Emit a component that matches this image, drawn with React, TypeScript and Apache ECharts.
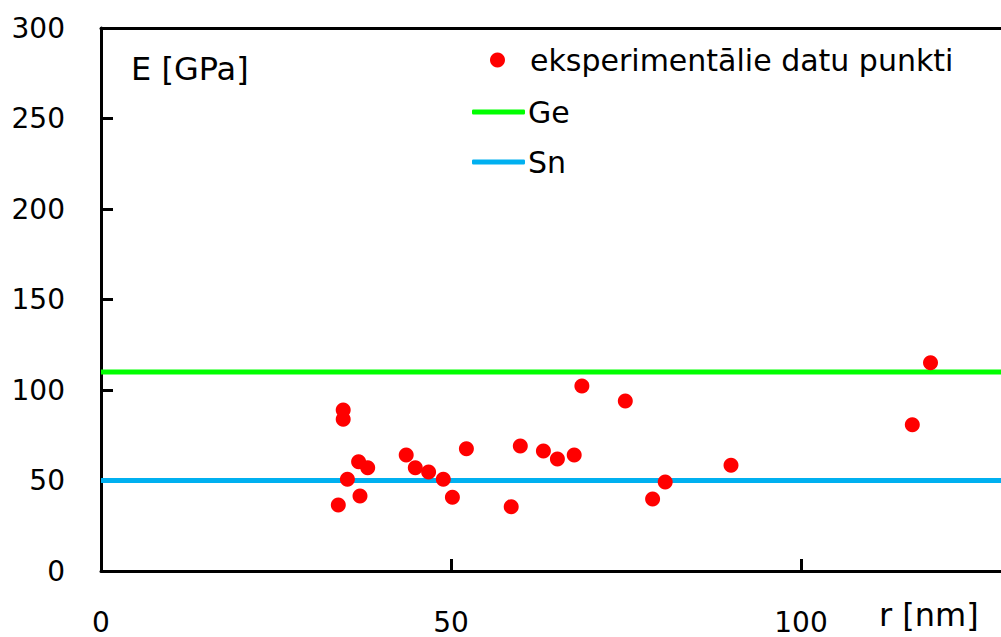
import React, { useEffect, useRef } from "react";
import * as echarts from "echarts";

const rValues = [34.6, 34.6, 36.8, 38.1, 35.2, 37.0, 33.9, 43.6, 44.9, 46.8, 48.9, 50.2, 52.2, 58.6, 59.9, 63.2, 65.2, 67.6, 68.7, 74.9, 78.8, 80.6, 90.0, 115.9, 118.5];
const eValues = [89, 83.8, 60.4, 57.1, 50.7, 41.4, 36.5, 64.1, 57.1, 54.7, 50.7, 40.7, 67.6, 35.5, 69.1, 66.3, 61.9, 64.1, 102.2, 93.9, 39.8, 49.2, 58.4, 80.8, 115.1];
const geValue = 110;
const snValue = 50;
const xMin = 0;
const xMax = 128.57;
const yTicks = [0, 50, 100, 150, 200, 250, 300];
const seriesNames = ["eksperimentālie datu punkti", "Ge", "Sn"];

const FONT = "DejaVu Sans";

export default function App() {
  const ref = useRef<HTMLDivElement>(null);
  useEffect(() => {
    document.body.style.margin = "0";
    const chart = echarts.init(ref.current!, null, { renderer: "svg" });
    const points = rValues.map((r, i) => [r, eValues[i]]);
    const legendText = { fontFamily: FONT, fontSize: 30, color: "#000", lineHeight: 30 };
    chart.setOption({
      animation: false,
      backgroundColor: "#fff",
      grid: { left: 101, top: 28, width: 900, height: 543 },
      legend: [
        { data: [{ name: seriesNames[0], icon: "circle" }], left: 490, top: 45, padding: 0, itemWidth: 15, itemHeight: 15, textStyle: { ...legendText, padding: [0, 0, 0, 20] }, selectedMode: false },
        { data: [{ name: seriesNames[1], icon: "roundRect" }], left: 472, top: 97, padding: 0, itemWidth: 53, itemHeight: 5, textStyle: { ...legendText, padding: [0, 0, 0, -2] }, selectedMode: false },
        { data: [{ name: seriesNames[2], icon: "roundRect" }], left: 472, top: 147, padding: 0, itemWidth: 53, itemHeight: 5, textStyle: { ...legendText, padding: [0, 0, 0, -2] }, selectedMode: false },
      ],
      xAxis: [
        {
          type: "value",
          min: xMin,
          max: xMax,
          interval: 50,
          position: "bottom",
          splitLine: { show: false },
          axisLine: { show: true, lineStyle: { color: "#000", width: 3 } },
          axisTick: { show: true, inside: true, length: 12, lineStyle: { color: "#000", width: 3 } },
          axisLabel: { fontFamily: FONT, fontSize: 28, color: "#000", margin: 37, showMaxLabel: false },
        },
        {
          type: "value",
          min: xMin,
          max: xMax,
          position: "top",
          splitLine: { show: false },
          axisLine: { show: true, lineStyle: { color: "#000", width: 3 } },
          axisTick: { show: false },
          axisLabel: { show: false },
        },
      ],
      yAxis: {
        type: "value",
        min: yTicks[0],
        max: yTicks[yTicks.length - 1],
        interval: 50,
        splitLine: { show: false },
        axisLine: { show: true, lineStyle: { color: "#000", width: 3 } },
        axisTick: { show: true, inside: true, length: 12, lineStyle: { color: "#000", width: 3 } },
        axisLabel: { fontFamily: FONT, fontSize: 28, color: "#000", margin: 36 },
      },
      series: [
        {
          name: seriesNames[1],
          type: "line",
          data: [[xMin, geValue], [xMax, geValue]],
          symbol: "none",
          lineStyle: { color: "#00FF00", width: 5 },
          itemStyle: { color: "#00FF00" },
          z: 2,
        },
        {
          name: seriesNames[2],
          type: "line",
          data: [[xMin, snValue], [xMax, snValue]],
          symbol: "none",
          lineStyle: { color: "#00B0F0", width: 5 },
          itemStyle: { color: "#00B0F0" },
          z: 2,
        },
        {
          name: seriesNames[0],
          type: "scatter",
          data: points,
          symbol: "circle",
          symbolSize: 15,
          itemStyle: { color: "#FF0000", opacity: 1 },
          z: 3,
        },
      ],
      graphic: [
        { type: "text", x: 131, y: 69, style: { text: "E [GPa]", fontFamily: FONT, fontSize: 32, fill: "#000", align: "left", verticalAlign: "middle" } },
        { type: "text", x: 879, y: 615, style: { text: "r [nm]", fontFamily: FONT, fontSize: 32, fill: "#000", align: "left", verticalAlign: "middle" } },
      ],
    });
    return () => chart.dispose();
  }, []);
  return <div ref={ref} style={{ position: "fixed", left: 0, top: 0, width: 1001, height: 637 }} />;
}
